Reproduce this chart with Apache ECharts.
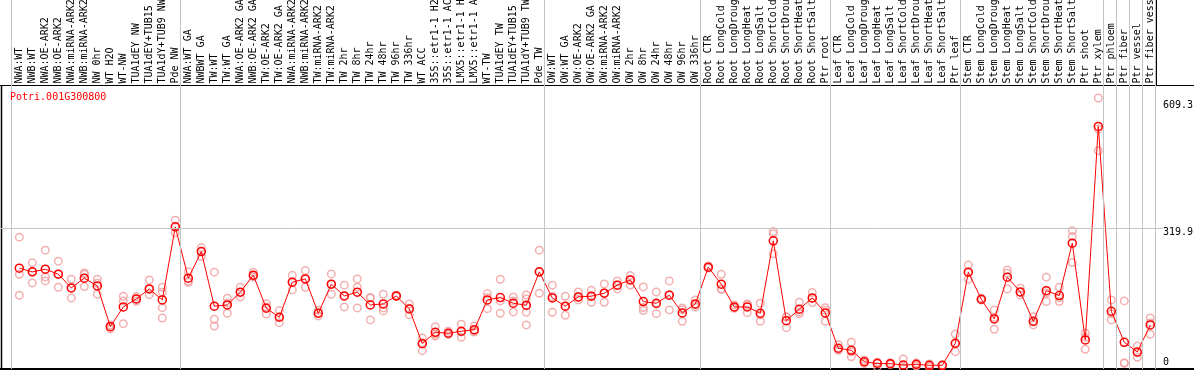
<!DOCTYPE html>
<html>
<head>
<meta charset="utf-8">
<script src="https://cdn.jsdelivr.net/npm/echarts@6/dist/echarts.min.js"></script>
<style>
  html, body { margin: 0; padding: 0; background: #fff; }
  #chart { width: 1194px; height: 370px; }
</style>
</head>
<body>
<div id="chart"></div>
<script>
// sample names, left to right
const categories = [
  'NWA:WT', 'NWB:WT', 'NWA:OE-ARK2', 'NWB:OE-ARK2', 'NWA:miRNA-ARK2', 'NWB:miRNA-ARK2',
  'NW 0hr', 'WT H2O', 'WT-NW', 'TUA1dEY NW', 'TUA1dEY+TUB15 NW', 'TUA1dY+TUB9 NW', 'Pde NW',
  'NWA:WT GA', 'NWBWT GA', 'TW:WT', 'TW:WT GA', 'NWA:OE-ARK2 GA', 'NWB:OE-ARK2 GA',
  'TW:OE-ARK2', 'TW:OE-ARK2 GA', 'NWA:miRNA-ARK2 GA', 'NWB:miRNA-ARK2 GA', 'TW:miRNA-ARK2',
  'TW:miRNA-ARK2 GA', 'TW 2hr', 'TW 8hr', 'TW 24hr', 'TW 48hr', 'TW 96hr', 'TW 336hr',
  'WT ACC', '35S::etr1-1 H2O', '35S::etr1-1 ACC', 'LMX5::etr1-1 H2O', 'LMX5::etr1-1 ACC',
  'WT-TW', 'TUA1dEY TW', 'TUA1dEY+TUB15 TW', 'TUA1dY+TUB9 TW', 'Pde TW',
  'OW:WT', 'OW:WT GA', 'OW:OE-ARK2', 'OW:OE-ARK2 GA', 'OW:miRNA-ARK2', 'OW:miRNA-ARK2 GA',
  'OW 2hr', 'OW 8hr', 'OW 24hr', 'OW 48hr', 'OW 96hr', 'OW 336hr',
  'Root CTR', 'Root LongCold', 'Root LongDrought', 'Root LongHeat', 'Root LongSalt',
  'Root ShortCold', 'Root ShortDrought', 'Root ShortHeat', 'Root ShortSalt', 'Ptr root',
  'Leaf CTR', 'Leaf LongCold', 'Leaf LongDrought', 'Leaf LongHeat', 'Leaf LongSalt',
  'Leaf ShortCold', 'Leaf ShortDrought', 'Leaf ShortHeat', 'Leaf ShortSalt', 'Ptr leaf',
  'Stem CTR', 'Stem LongCold', 'Stem LongDrought', 'Stem LongHeat', 'Stem LongSalt',
  'Stem ShortCold', 'Stem ShortDrought', 'Stem ShortHeat', 'Stem ShortSalt',
  'Ptr shoot', 'Ptr xylem', 'Ptr phloem', 'Ptr fiber', 'Ptr vessel', 'Ptr fiber vessel'
];

// mean expression per sample
const means = [
  229.5, 221.1, 227.2, 215.8, 184.6, 206.7, 189.2, 96.4, 141.3, 159.5, 182.3, 157.3, 323.6,
  206.7, 267.3, 142.9, 145.9, 174.8, 213.5, 138.3, 117.8, 197.6, 205.1, 126.9, 193.0,
  166.4, 174.8, 145.9, 148.1, 166.4, 136.7, 57.7, 83.6, 81.4, 85.9, 89.6,
  157.3, 162.5, 149.7, 145.2, 221.1, 161.8, 142.9, 164.1, 165.7, 172.5, 190.8,
  202.8, 153.4, 149.7, 168.0, 127.6, 148.1,
  231.8, 193.0, 141.3, 141.3, 126.9, 291.7, 110.1, 136.1, 161.8, 127.6,
  47.2, 42.6, 16.6, 12.5, 12.1, 9.1, 10.7, 8.4, 8.4, 58.6,
  220.4, 158.8, 114.0, 209.0, 175.5, 108.7, 178.4, 167.1, 286.5,
  66.1, 552.2, 131.5, 60.8, 38.7, 100.3
];

// single replicates per sample
const replicates = [
  [300.1, 215.8, 168.0], [241.6, 221, 196], [270.5, 209.7, 200.6], [245.5, 216, 186.2],
  [204.4, 184.6, 161.8], [218.8, 215.8, 187.6], [204.4, 195.3, 170.2], [100.3, 96.4, 91.2],
  [165.7, 155, 103.2], [164.8, 159.5, 154], [202.8, 182.3, 169.3], [186.2, 174.8, 139.7, 116.2],
  [338.9, 323.6, 310], [221.1, 200, 197.6], [276.4, 267.3, 255.9], [220.4, 113.3, 98.0],
  [161.1, 150, 126.9], [186, 174.8, 164], [220.4, 212, 209.7], [148.8, 141, 125.3],
  [132.9, 118.5, 105.5], [213.5, 198, 180.0], [224.0, 205, 186.2], [133.8, 127.6, 120.8],
  [216.5, 193, 170.2], [190.8, 166, 141.3], [205.1, 186.2, 139.0], [163, 161.8, 111.7],
  [170.2, 139.0, 132.2], [168, 166, 165], [148.1, 138, 123.7], [70.6, 60, 41.7],
  [96.4, 79, 75.2], [85.9, 79.8, 79.1], [101.9, 84, 72.2], [98.0, 87, 84.3],
  [171.6, 163, 137.4], [204.4, 155, 126.9], [164.1, 155, 129.9], [168.6, 159.5, 143.6, 129.2, 100.3],
  [270.5, 221, 172.5], [190.8, 165, 129.2], [165.7, 143, 122.4], [175.5, 164, 157.3],
  [179.4, 166, 152.0], [193.7, 173, 152.0], [200.6, 191.4, 182.3], [212.6, 203, 190.8],
  [186.9, 140, 132.9], [175.5, 148, 126.0], [200.6, 169, 134.5], [139.0, 135, 108.7],
  [157.3, 146, 141], [234.7, 230.5, 230.2], [215.8, 182, 181.6], [145.9, 139.7, 138.3],
  [148.1, 147, 128.3], [149.7, 123, 108.7], [312.9, 307.7, 262.1], [119, 117.9, 94.1],
  [152.0, 129.9, 126], [173.9, 161, 151.1], [139.7, 134, 108.7], [55.4, 43.3, 43],
  [60.8, 39, 28.0], [20.5, 16, 12.5], [16.0, 14, 5.2], [14.4, 11.4, 10.3],
  [23, 2.5, 2], [13.7, 9.1, 6.8], [11.4, 7.5, 5.2], [9, 8, 8],
  [79.8, 57, 39.4], [237.0, 220, 204.4], [161, 158, 157], [134.5, 117, 90.5],
  [225.6, 218, 182.3], [183.9, 175, 168.6], [119.2, 107, 100.3], [209.0, 173, 153.4],
  [186.2, 162, 153.4], [314.5, 301.5, 242.3], [81.4, 72, 44.9], [616.9, 546.3, 496.8],
  [157.3, 126, 111.7], [155.0, 14, 13.0], [52.4, 37, 26.7], [116.2, 105, 79.1]
];

const yTicks = [0, 319.9, 609.3];
// separators between sample groups (in category index units)
const groupBreaks = [-0.65, 12.4, 40.4, 52.4, 62.4, 72.4, 83.4, 84.4, 85.4, 86.4, 87.4];

const FONT = 'DejaVu Sans Mono';

const repPoints = [];
replicates.forEach((vals, i) => vals.forEach(v => repPoints.push([i, v])));

const option = {
  animation: false,
  title: {
    text: 'Potri.001G300800',
    left: 10, top: 92, padding: 0,
    textStyle: { color: '#ff0000', fontSize: 10, fontWeight: 'normal', fontFamily: FONT }
  },
  grid: [
    { left: 1, right: 31, top: 0, bottom: 1, outerBoundsMode: 'none' },
    { left: 12.8, width: 1144, top: 85.5, bottom: 1, outerBoundsMode: 'none' }
  ],
  xAxis: [
    { type: 'value', gridIndex: 0, min: -1.408, max: 87.977, show: false },
    {
      type: 'category', gridIndex: 1, position: 'top', data: categories,
      axisLine: { show: false }, axisTick: { show: false }, splitLine: { show: false },
      axisLabel: { rotate: 90, interval: 0, margin: 2, fontSize: 10, fontFamily: FONT, color: '#000' }
    }
  ],
  yAxis: [
    {
      type: 'value', gridIndex: 0, position: 'right', min: 0, max: 840,
      axisLine: { show: false }, axisTick: { show: false }, splitLine: { show: false },
      axisLabel: {
        customValues: yTicks, margin: 0, align: 'left', fontSize: 10, fontFamily: FONT, color: '#000',
        formatter: v => (v === 0 ? '{lo|0}' : '{hi|' + v + '}'),
        rich: {
          hi: { fontSize: 10, fontFamily: FONT, lineHeight: 10, padding: [8, 0, 0, 0] },
          lo: { fontSize: 10, fontFamily: FONT, lineHeight: 10, padding: [0, 0, 14, 0] }
        }
      }
    },
    { type: 'value', gridIndex: 1, show: false }
  ],
  graphic: [
    { type: 'line', shape: { x1: 0, y1: 85.5, x2: 1194, y2: 85.5 }, style: { stroke: '#000', lineWidth: 1 } },
    { type: 'line', shape: { x1: 0, y1: 369, x2: 1194, y2: 369 }, style: { stroke: '#000', lineWidth: 2 } },
    { type: 'line', shape: { x1: 1.5, y1: 85, x2: 1.5, y2: 370 }, style: { stroke: '#000', lineWidth: 1.5 } },
    { type: 'line', shape: { x1: 1156.5, y1: 0, x2: 1156.5, y2: 85.5 }, style: { stroke: '#000', lineWidth: 1 } }
  ],
  series: [
    {
      type: 'scatter', xAxisIndex: 0, yAxisIndex: 0, data: repPoints,
      symbol: 'circle', symbolSize: 7.5,
      itemStyle: { color: 'rgba(0,0,0,0)', borderColor: '#f09c9c', borderWidth: 1.5 },
      markLine: {
        silent: true, symbol: 'none', label: { show: false },
        lineStyle: { color: '#c4c4c4', width: 1, type: 'solid' },
        data: groupBreaks.map(x => ({ xAxis: x })).concat([{ yAxis: yTicks[1] }])
      }
    },
    {
      type: 'line', xAxisIndex: 0, yAxisIndex: 0, data: means.map((v, i) => [i, v]),
      symbol: 'circle', symbolSize: 8, z: 3,
      lineStyle: { color: '#ff0000', width: 1 },
      itemStyle: { color: 'rgba(0,0,0,0)', borderColor: '#ff0000', borderWidth: 1.5 }
    }
  ]
};

const myChart = echarts.init(document.getElementById('chart'));
myChart.setOption(option);
</script>
</body>
</html>
